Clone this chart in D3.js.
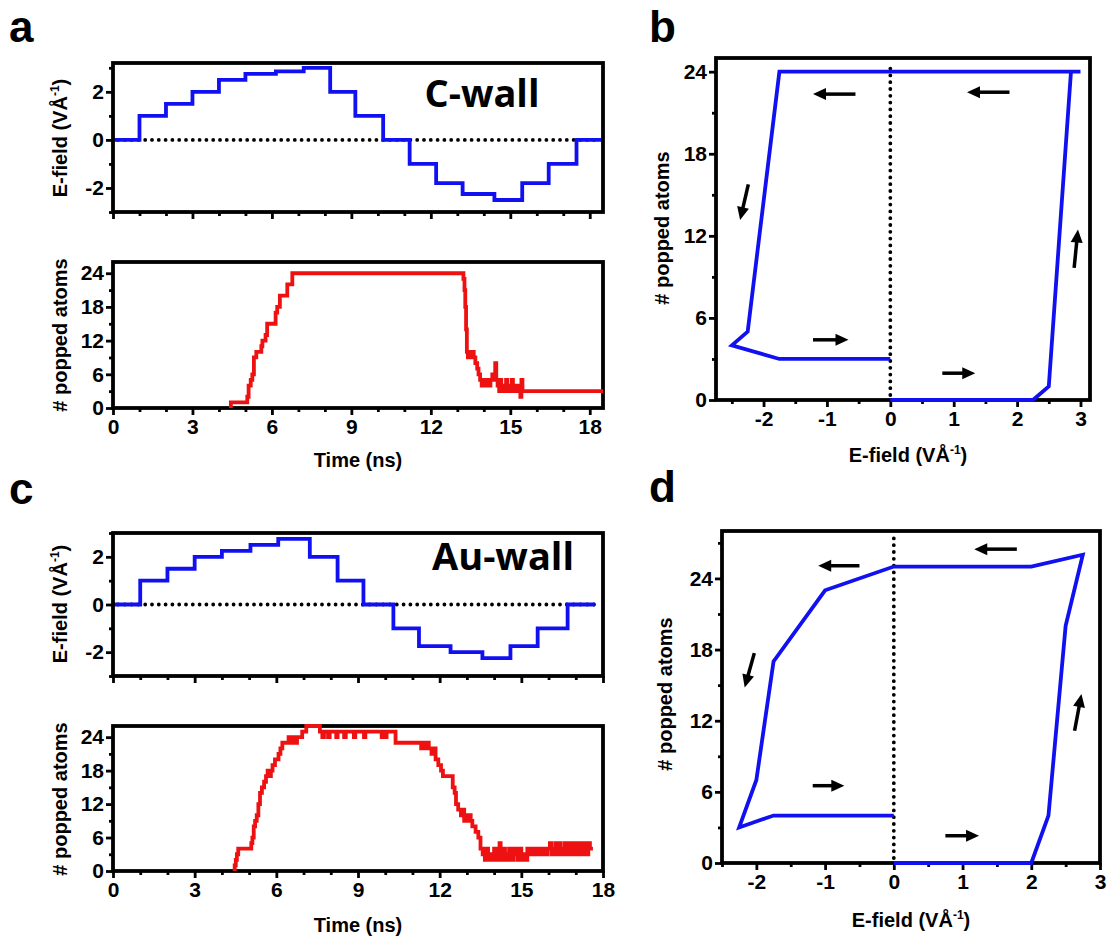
<!DOCTYPE html>
<html><head><meta charset="utf-8">
<script src="https://cdn.jsdelivr.net/npm/d3@7"></script>
<style>
body{margin:0;background:#fff;}
svg text{font-family:"Liberation Sans",Arial,sans-serif;font-weight:bold;fill:#000;}
</style></head><body>
<svg id="fig" width="1108" height="940"></svg>
<script>
// ---------- DATA ----------
// Panel a (C-wall): E-field step profile (step start times, ns / field, V/Å)
const aStepT = [0, 1, 2, 3, 4, 5, 6.15, 7.2, 8.2, 9.15, 10.2, 11.2, 12.2, 13.2, 14.4, 15.45, 16.45, 17.5, 18.5];
const aStepE = [0, 1, 1.5, 2, 2.5, 2.75, 2.85, 3, 2, 1, 0, -1, -1.8, -2.25, -2.5, -1.8, -1, 0, 0];
// Panel a: popped atoms vs time
const aPopT = [0, 4.45, 5.07, 5.12, 5.2, 5.26, 5.32, 5.41, 5.6, 5.64, 5.76, 5.82, 6.14, 6.2, 6.3, 6.58, 6.77,
  13.23, 13.27, 13.3, 13.33, 13.36, 13.4, 13.45, 13.5, 13.55, 13.62, 13.68, 13.75, 13.8, 13.86, 13.92, 14.0,
  14.05, 14.12, 14.18, 14.25, 14.32, 14.38, 14.43, 14.47, 14.52, 14.58, 14.62, 14.66, 14.72, 14.78, 14.84,
  14.88, 14.95, 15.0, 15.05, 15.1, 15.18, 15.25, 15.32, 15.38, 15.42, 15.46, 18.5];
const aPopN = [0, 1, 2, 4, 5, 6, 9, 10, 11, 12, 13, 15, 17, 18, 20, 22, 24,
  23, 21, 18, 14, 10, 9, 10, 9, 10, 9, 8, 7, 6, 5, 4, 5,
  4, 5, 4, 5, 6, 5, 8, 5, 4, 3, 5, 3, 4, 3, 5,
  3, 4, 3, 5, 3, 4, 3, 4, 2, 5, 3, 3];

// Panel b (C-wall hysteresis): E-field vs popped atoms, in time order
const bE = [0, 2.25, 2.5, 2.85, 3, -1.75, -2.25, -2.5, -1.75, 0];
const bN = [0, 0, 1, 24, 24, 24, 5, 4, 3, 3];
// Panel b direction arrows (data units: tail -> tip)
const bArrX1 = [-0.55, 1.88, -2.24, -1.22, 0.82, 2.9];
const bArrY1 = [22.36, 22.5, 15.76, 4.4, 1.96, 9.66];
const bArrX2 = [-1.22, 1.21, -2.37, -0.66, 1.34, 2.96];
const bArrY2 = [22.36, 22.5, 13.15, 4.4, 1.96, 12.46];

// Panel c (Au-wall): E-field steps
const cStepT = [0, 1, 2, 3, 4, 5.05, 6.07, 7.23, 8.25, 9.2, 10.3, 11.24, 12.4, 13.57, 14.6, 15.6, 16.7, 17.7];
const cStepE = [0, 1, 1.5, 2, 2.25, 2.5, 2.75, 2, 1, 0, -1, -1.75, -2, -2.25, -1.75, -1, 0, 0];
// Panel c: popped atoms vs time
const cPopT = [0, 4.47, 4.51, 4.55, 4.6, 5.08, 5.12, 5.17, 5.22, 5.28, 5.34, 5.4, 5.47, 5.55, 5.62, 5.68, 5.75, 5.8,
  5.86, 5.95, 6.08, 6.15, 6.22, 6.45, 6.55, 6.62, 6.7, 6.76, 6.95, 7.1, 7.6, 7.69, 7.75, 7.9, 7.96, 8.2, 8.25,
  8.49, 8.55, 8.85, 8.9, 9.22, 9.27, 9.87, 9.93, 10.01, 10.05, 10.38, 11.32, 11.4, 11.45, 11.55, 11.6, 11.7,
  11.78, 11.85, 11.95, 12.05, 12.12, 12.48, 12.55, 12.6, 12.68, 12.78, 12.85, 12.9, 12.95, 13.02, 13.08, 13.14,
  13.2, 13.32, 13.42, 13.5, 13.58, 13.66, 13.72, 13.78, 13.85, 13.92, 14.0, 14.06, 14.14, 14.2, 14.24, 14.32,
  14.4, 14.48, 14.55, 14.62, 14.7, 14.78, 14.85, 14.92, 15.0, 15.08, 15.15, 15.22, 15.3, 15.4, 15.5, 15.58,
  15.66, 15.75, 15.85, 15.95, 16.05, 16.1, 16.18, 16.25, 16.3, 16.38, 16.45, 16.52, 16.6, 16.66, 16.74, 16.8,
  16.86, 16.94, 17.0, 17.06, 17.12, 17.2, 17.26, 17.32, 17.4, 17.46, 17.52, 17.63];
const cPopN = [0, 1, 2, 3, 4, 5, 6, 8, 9, 10, 12, 14, 15, 16, 17, 18, 17, 18,
  19, 20, 21, 22, 23, 24, 23, 24, 23, 24, 25, 26, 25, 24, 25, 24, 25, 24, 25,
  24, 25, 24, 25, 24, 25, 24, 25, 24, 25, 23, 22, 23, 22, 23, 22, 21,
  22, 20, 19, 18, 17, 15, 14, 12, 11, 10, 11, 9, 10, 9, 10, 9,
  8, 7, 6, 4, 3, 2, 4, 2, 3, 2, 4, 2, 3, 5, 2, 4,
  2, 3, 4, 2, 4, 3, 2, 4, 2, 3, 2, 4, 3, 4, 3, 4,
  3, 4, 3, 4, 5, 3, 4, 5, 3, 5, 4, 3, 5, 3, 4, 5,
  3, 5, 4, 3, 5, 3, 4, 5, 3, 5, 4, 4];

// Panel d (Au-wall hysteresis)
const dE = [0, 2, 2.25, 2.5, 2.75, 2, 0, -1, -1.75, -2, -2.25, -1.75, 0];
const dN = [0, 0, 4, 20, 26, 25, 25, 23, 17, 7, 3, 4, 4];
const dArrX1 = [-0.5, 1.79, -2.03, -1.18, 0.75, 2.63];
const dArrY1 = [25.07, 26.47, 17.7, 6.52, 2.3, 11.15];
const dArrX2 = [-1.1, 1.17, -2.17, -0.72, 1.24, 2.73];
const dArrY2 = [25.07, 26.47, 14.8, 6.52, 2.3, 14.25];

// Tick values
const timeMajorA = [0, 3, 6, 9, 12, 15, 18];
const timeMinorA = [1, 2, 4, 5, 7, 8, 10, 11, 13, 14, 16, 17];
const fieldMajor = [-2, 0, 2];
const fieldMinor = [-3, -1, 1, 3];
const popMajor = [0, 6, 12, 18, 24];
const popMinor = [3, 9, 15, 21];
const popMinorD = [3, 9, 15, 21, 27];
const eMajorB = [-2, -1, 0, 1, 2, 3];
const eMinorB = [-2.5, -1.5, -0.5, 0.5, 1.5, 2.5];

// ---------- DRAWING ----------
const svg = d3.select('#fig');
const BLUE = '#1010f0', RED = '#ee1111';
const FONT = '"Liberation Sans", Arial, sans-serif';

function makePanel(o) {
  const x = d3.scaleLinear().domain(o.xDom).range([o.L, o.R]);
  const y = d3.scaleLinear().domain(o.yDom).range([o.B, o.T]);
  const g = svg.append('g');
  return {x, y, g, o};
}
function styleAxis(ax) {
  ax.select('.domain').remove();
  ax.selectAll('.tick line').attr('stroke', '#000').attr('stroke-width', 2.8);
  ax.attr('font-family', FONT).attr('font-size', 21).attr('font-weight', 'bold');
  ax.selectAll('.tick text').attr('fill', '#000');
}
function drawAxes(p, xMaj, xMin, yMaj, yMin, xLabels) {
  const {x, y, g, o} = p;
  const fmt = d => String(d);
  const ax1 = g.append('g').attr('transform', `translate(0,${o.B})`)
    .call(d3.axisBottom(x).tickValues(xMaj).tickSize(7).tickPadding(4).tickFormat(xLabels ? fmt : () => ''));
  styleAxis(ax1);
  const ax2 = g.append('g').attr('transform', `translate(0,${o.B})`)
    .call(d3.axisBottom(x).tickValues(xMin).tickSize(4).tickFormat(() => ''));
  styleAxis(ax2);
  const ay1 = g.append('g').attr('transform', `translate(${o.L},0)`)
    .call(d3.axisLeft(y).tickValues(yMaj).tickSize(7).tickPadding(2).tickFormat(fmt));
  styleAxis(ay1);
  const ay2 = g.append('g').attr('transform', `translate(${o.L},0)`)
    .call(d3.axisLeft(y).tickValues(yMin).tickSize(4).tickFormat(() => ''));
  styleAxis(ay2);
  g.append('rect').attr('x', o.L).attr('y', o.T).attr('width', o.R - o.L).attr('height', o.B - o.T)
    .attr('fill', 'none').attr('stroke', '#000').attr('stroke-width', 3.8);
}
function hDots(p, v) {
  p.g.append('line').attr('x1', p.o.L + 5).attr('x2', p.o.R - 3).attr('y1', p.y(v)).attr('y2', p.y(v))
    .attr('stroke', '#000').attr('stroke-width', 3.8).attr('stroke-linecap', 'round').attr('stroke-dasharray', '0 6.8');
}
function vDots(p, v) {
  p.g.append('line').attr('y1', p.o.B - 5).attr('y2', p.o.T + 4).attr('x1', p.x(v)).attr('x2', p.x(v))
    .attr('stroke', '#000').attr('stroke-width', 3.8).attr('stroke-linecap', 'round').attr('stroke-dasharray', '0 6.8');
}
// draws a series; for step series the leading zero run (lying on the bottom frame) is not stroked
function series(p, xs, ys, color, curve, w, skipLeadingZeros) {
  let pts = xs.map((t, i) => [t, ys[i]]);
  if (skipLeadingZeros) {
    let k = 0;
    while (k + 1 < pts.length && pts[k + 1][1] === 0) k++;
    pts = [[pts[k + 1][0], 0]].concat(pts.slice(k + 1));
  }
  return p.g.append('path').datum(pts)
    .attr('d', d3.line().x(d => p.x(d[0])).y(d => p.y(d[1])).curve(curve))
    .attr('fill', 'none').attr('stroke', color).attr('stroke-width', w).attr('stroke-linejoin', 'miter');
}
function arrows(p, X1, Y1, X2, Y2) {
  X1.forEach((_, i) => {
    const x1 = p.x(X1[i]), y1 = p.y(Y1[i]), x2 = p.x(X2[i]), y2 = p.y(Y2[i]);
    const dx = x2 - x1, dy = y2 - y1, len = Math.hypot(dx, dy);
    const ux = dx / len, uy = dy / len, hl = 13, hw = 6;
    const bx = x2 - ux * hl, by = y2 - uy * hl;
    p.g.append('line').attr('x1', x1).attr('y1', y1).attr('x2', bx + ux * 1).attr('y2', by + uy * 1)
      .attr('stroke', '#000').attr('stroke-width', 3.5);
    p.g.append('path').attr('d', `M${x2},${y2}L${bx - uy * hw},${by + ux * hw}L${bx + uy * hw},${by - ux * hw}Z`)
      .attr('fill', '#000');
  });
}
function yTitle(cx, cy, field) {
  const t = svg.append('text').attr('transform', `translate(${cx},${cy}) rotate(-90)`)
    .attr('text-anchor', 'middle').attr('font-size', 20).attr('dy', '0.35em');
  if (field) {
    t.append('tspan').text('E-field (VÅ');
    t.append('tspan').attr('font-size', 12).attr('dy', -8).text('-1');
    t.append('tspan').attr('dy', 8).text(')');
  } else t.text('# popped atoms');
}
function xTitle(cx, by, field) {
  const t = svg.append('text').attr('x', cx).attr('y', by).attr('text-anchor', 'middle').attr('font-size', 20);
  if (field) {
    t.append('tspan').text('E-field (VÅ');
    t.append('tspan').attr('font-size', 12).attr('dy', -8).text('-1');
    t.append('tspan').attr('dy', 8).text(')');
  } else t.text('Time (ns)');
}
function letter(x, y, s) {
  svg.append('text').attr('x', x).attr('y', y).attr('font-size', 44).text(s);
}
function wallLabel(x, y, s) {
  svg.append('text').attr('x', x).attr('y', y).attr('text-anchor', 'middle')
    .style('font-family', '"Open Sans", sans-serif').style('font-weight', 700).attr('font-size', 38).text(s);
}

// Panel a top
const pa1 = makePanel({L: 113, R: 603, T: 63, B: 212, xDom: [0, 18.5], yDom: [-3, 3.2]});
hDots(pa1, 0);
series(pa1, aStepT, aStepE, BLUE, d3.curveStepAfter, 3.8, false);
drawAxes(pa1, timeMajorA, timeMinorA, fieldMajor, fieldMinor, false);
wallLabel(482, 107, 'C-wall');
yTitle(60, 138, true);

// Panel a bottom
const pa2 = makePanel({L: 113, R: 603, T: 262, B: 408, xDom: [0, 18.5], yDom: [0, 26]});
drawAxes(pa2, timeMajorA, timeMinorA, popMajor, popMinor, true);
series(pa2, aPopT, aPopN, RED, d3.curveStepAfter, 3.8, true);
yTitle(60, 335, false);
xTitle(358, 467, false);

// Panel b
const pb = makePanel({L: 716, R: 1090, T: 58, B: 400, xDom: [-2.75, 3.15], yDom: [0, 25]});
vDots(pb, 0);
drawAxes(pb, eMajorB, eMinorB, popMajor, popMinor, true);
series(pb, bE, bN, BLUE, d3.curveLinear, 3.8, false);
arrows(pb, bArrX1, bArrY1, bArrX2, bArrY2);
yTitle(662, 228, false);
xTitle(908, 462, true);

// Panel c top
const pc1 = makePanel({L: 113, R: 603, T: 533, B: 676, xDom: [0, 18], yDom: [-3, 3]});
hDots(pc1, 0);
series(pc1, cStepT, cStepE, BLUE, d3.curveStepAfter, 3.8, false);
drawAxes(pc1, timeMajorA, timeMinorA, fieldMajor, fieldMinor, false);
wallLabel(503, 570, 'Au-wall');
yTitle(60, 604, true);

// Panel c bottom
const pc2 = makePanel({L: 113, R: 603, T: 726, B: 871, xDom: [0, 18], yDom: [0, 26]});
drawAxes(pc2, timeMajorA, timeMinorA, popMajor, popMinor, true);
series(pc2, cPopT, cPopN, RED, d3.curveStepAfter, 3.8, true);
yTitle(60, 799, false);
xTitle(358, 932, false);

// Panel d
const pd = makePanel({L: 722, R: 1100, T: 531, B: 863, xDom: [-2.5, 3], yDom: [0, 28]});
vDots(pd, 0);
drawAxes(pd, eMajorB, eMinorB, popMajor, popMinorD, true);
series(pd, dE, dN, BLUE, d3.curveLinear, 3.8, false);
arrows(pd, dArrX1, dArrY1, dArrX2, dArrY2);
yTitle(665, 694, false);
xTitle(911, 927, true);

letter(9, 42, 'a');
letter(649, 42, 'b');
letter(9, 504, 'c');
letter(649, 502, 'd');
</script></body></html>
